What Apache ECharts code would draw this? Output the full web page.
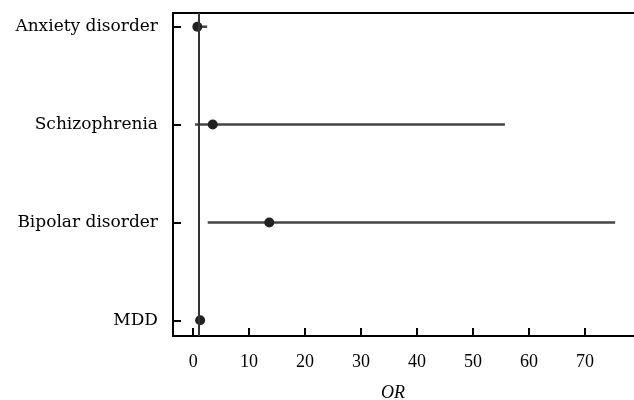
<!DOCTYPE html>
<html>
<head>
<meta charset="utf-8">
<script src="https://cdn.jsdelivr.net/npm/echarts@6/dist/echarts.min.js"></script>
<style>
	html, body { margin: 0; padding: 0; background: #fff; }
	#main { width: 634px; height: 400px; }
</style>
</head>
<body>
<div id="main"></div>
<script>
	// rows from bottom to top
	var categories = ['MDD', 'Bipolar disorder', 'Schizophrenia', 'Anxiety disorder'];
	var orValues = [1.25, 13.6, 3.5, 0.75];
	var ciLower = [1.1, 2.6, 0.35, 0.2];
	var ciUpper = [1.4, 75.4, 55.7, 2.5];
	var xTicks = [0, 10, 20, 30, 40, 50, 60, 70];
	var rowIndex = [0, 1, 2, 3];
	var refLine = 1;

	var font = '"Liberation Serif", "DejaVu Serif", serif';
	var labelFont = '"DejaVu Serif", serif';

	var ciData = [];
	var pointData = [];
	for (var i = 0; i < categories.length; i++) {
		ciData.push([ciLower[i], ciUpper[i], i]);
		pointData.push([orValues[i], i]);
	}

	var myChart = echarts.init(document.getElementById('main'));
	var option = {
		animation: false,
		grid: { left: 173, right: -3, top: 13, bottom: 64, containLabel: false, outerBoundsMode: 'none' },
		xAxis: [{
			type: 'value',
			min: -3.6,
			max: 79.3,
			name: 'OR',
			nameLocation: 'middle',
			nameGap: 48,
			nameTextStyle: { fontFamily: font, fontStyle: 'italic', fontSize: 18, color: '#000', padding: [0, 24, 0, 0] },
			axisLine: { show: true, onZero: false, lineStyle: { color: '#000', width: 2 } },
			axisTick: { show: true, inside: true, length: 8, customValues: xTicks, lineStyle: { color: '#000', width: 2 } },
			axisLabel: { customValues: xTicks, margin: 17, fontFamily: font, fontSize: 18, color: '#000' },
			splitLine: { show: false }
		}, {
			type: 'value',
			position: 'top',
			min: -3.6,
			max: 79.3,
			axisLine: { show: true, onZero: false, lineStyle: { color: '#000', width: 2 } },
			axisTick: { show: false },
			axisLabel: { show: false },
			splitLine: { show: false }
		}],
		yAxis: {
			type: 'value',
			min: -0.16,
			max: 3.14,
			axisLine: { show: true, onZero: false, lineStyle: { color: '#000', width: 2 } },
			axisTick: { show: true, inside: true, length: 8, customValues: rowIndex, lineStyle: { color: '#000', width: 2 } },
			axisLabel: {
				customValues: rowIndex,
				margin: 15,
				fontFamily: labelFont,
				fontSize: 17,
				color: '#000',
				formatter: function(v) { return categories[v]; }
			},
			splitLine: { show: false }
		},
		series: [
			{
				type: 'custom',
				data: ciData,
				renderItem: function(params, api) {
					var p1 = api.coord([api.value(0), api.value(2)]);
					var p2 = api.coord([api.value(1), api.value(2)]);
					return {
						type: 'line',
						shape: { x1: p1[0], y1: p1[1], x2: p2[0], y2: p2[1] },
						style: { stroke: '#444', lineWidth: 2.5 }
					};
				},
				encode: { x: [0, 1], y: 2 },
				silent: true
			},
			{
				type: 'scatter',
				data: pointData,
				symbolSize: 10,
				itemStyle: { color: '#222', opacity: 1 },
				markLine: {
					silent: true,
					symbol: 'none',
					label: { show: false },
					lineStyle: { color: '#333', width: 2, type: 'solid' },
					data: [{ xAxis: refLine }]
				},
				z: 3
			}
		]
	};
	myChart.setOption(option);
</script>
</body>
</html>
